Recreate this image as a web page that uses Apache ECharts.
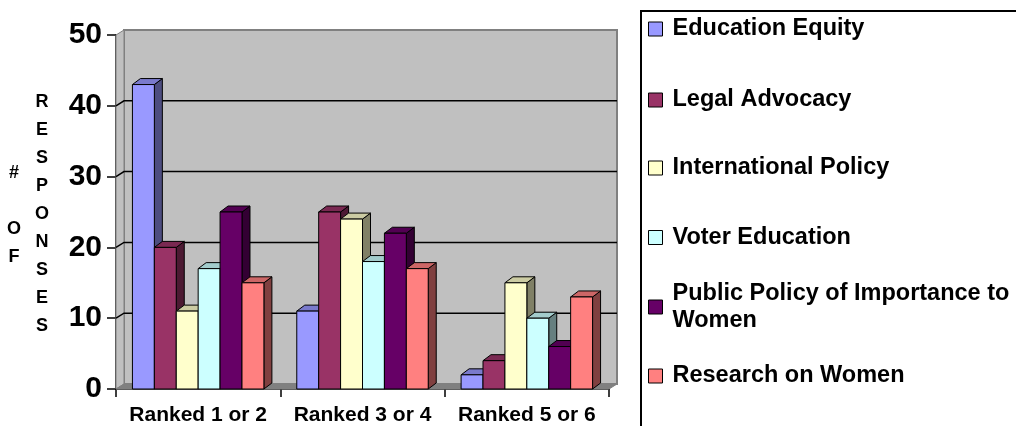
<!DOCTYPE html>
<html>
<head>
<meta charset="utf-8">
<script src="https://cdn.jsdelivr.net/npm/echarts@6/dist/echarts.min.js"></script>
<style>
html,body{margin:0;padding:0;background:#fff;}
#chart{width:1016px;height:426px;}
</style>
</head>
<body>
<div id="chart"></div>
<script>
const categories = ['Ranked 1 or 2', 'Ranked 3 or 4', 'Ranked 5 or 6'];
const seriesNames = ['Education Equity', 'Legal Advocacy', 'International Policy', 'Voter Education', 'Public Policy of Importance to Women', 'Research on Women'];
const educationEquity = [43, 11, 2];
const legalAdvocacy = [20, 25, 4];
const internationalPolicy = [11, 24, 15];
const voterEducation = [17, 18, 10];
const publicPolicy = [25, 22, 6];
const researchOnWomen = [15, 17, 13];
const yMin = 0, yMax = 50, yInterval = 10;

const seriesValues = [educationEquity, legalAdvocacy, internationalPolicy, voterEducation, publicPolicy, researchOnWomen];
const colors = ['#9999FF', '#993366', '#FFFFCC', '#CCFFFF', '#660066', '#FF8080'];
const FONT = '"Liberation Sans", Arial, sans-serif';

function shade(hex, f) {
  const n = parseInt(hex.slice(1), 16);
  const r = Math.round(((n >> 16) & 255) * f), g = Math.round(((n >> 8) & 255) * f), b = Math.round((n & 255) * f);
  return 'rgb(' + r + ',' + g + ',' + b + ')';
}

const WDX = 8, WDY = 5;   // wall depth
const BDX = 8, BDY = 6;   // bar depth

function renderWalls(params, api) {
  const cs = params.coordSys;
  const L = cs.x, R = cs.x + cs.width, T = cs.y, B = cs.y + cs.height;
  const children = [];
  children.push({ type: 'rect', shape: { x: L + WDX, y: T - WDY, width: R - L, height: B - T },
    style: { fill: '#C0C0C0', stroke: '#808080', lineWidth: 2 } });
  children.push({ type: 'polygon', shape: { points: [[L, T], [L + WDX, T - WDY], [L + WDX, B - WDY], [L, B]] },
    style: { fill: '#C0C0C0', stroke: '#808080', lineWidth: 1 } });
  children.push({ type: 'polygon', shape: { points: [[L, B], [L + WDX, B - WDY], [R + WDX, B - WDY], [R, B]] },
    style: { fill: '#808080', stroke: '#808080', lineWidth: 1 } });
  for (let v = yMin + yInterval; v < yMax; v += yInterval) {
    const y = api.coord([0, v])[1];
    children.push({ type: 'polyline', shape: { points: [[L, y], [L + WDX, y - WDY], [R + WDX, y - WDY]] },
      style: { fill: null, stroke: '#000', lineWidth: 1.5 } });
  }
  return { type: 'group', children: children };
}

function makeBarRenderer(i) {
  return function (params, api) {
    const c = api.value(0), v = api.value(1);
    const base = api.coord([c, 0]);
    const top = api.coord([c, v]);
    const band = api.size([1, 0])[0];
    const bw = band * 0.8 / 6;
    const x0 = base[0] - band * 0.4 + i * bw, x1 = x0 + bw;
    const yb = base[1], yt = top[1];
    const col = colors[i];
    return {
      type: 'group',
      children: [
        { type: 'polygon', shape: { points: [[x1, yt], [x1 + BDX, yt - BDY], [x1 + BDX, yb - BDY], [x1, yb]] },
          style: { fill: shade(col, 0.5), stroke: '#000', lineWidth: 1 } },
        { type: 'polygon', shape: { points: [[x0, yt], [x0 + BDX, yt - BDY], [x1 + BDX, yt - BDY], [x1, yt]] },
          style: { fill: shade(col, 0.8), stroke: '#000', lineWidth: 1 } },
        { type: 'rect', shape: { x: x0, y: yt, width: bw, height: yb - yt },
          style: { fill: col, stroke: '#000', lineWidth: 1 } }
      ]
    };
  };
}

const series = [{
  type: 'custom', name: '__walls', coordinateSystem: 'cartesian2d',
  data: [[0, 0]], renderItem: renderWalls, silent: true
}];
seriesNames.forEach(function (name, i) {
  series.push({
    type: 'custom', name: name, coordinateSystem: 'cartesian2d',
    itemStyle: { color: colors[i], borderColor: '#000', borderWidth: 1 },
    encode: { x: 0, y: 1 },
    data: seriesValues[i].map(function (v, c) { return [c, v]; }),
    renderItem: makeBarRenderer(i)
  });
});

const legendCenters = [29, 100, 168, 237.5, 307, 376];
const legends = seriesNames.map(function (name, i) {
  const twoLine = name === 'Public Policy of Importance to Women';
  return {
    show: true, orient: 'vertical', left: 648,
    top: legendCenters[i] - (twoLine ? 40.5 : 13.5),
    padding: 0, itemWidth: 14, itemHeight: 14,
    icon: 'rect', selectedMode: false,
    itemStyle: { borderColor: '#000', borderWidth: 1 },
    data: [name],
    formatter: function (n) { return n === 'Public Policy of Importance to Women' ? 'Public Policy of Importance to\nWomen' : n; },
    textStyle: { fontFamily: FONT, fontWeight: 'bold', fontSize: 23.5, color: '#000', lineHeight: 27,
      padding: twoLine ? [27, 0, 0, 5] : [0, 0, 0, 5] }
  };
});

const option = {
  backgroundColor: '#fff',
  animation: false,
  grid: { left: 116, right: 407, top: 35, bottom: 37, containLabel: false },
  xAxis: {
    type: 'category', data: categories,
    axisLine: { show: true, lineStyle: { color: '#000', width: 1.5 } },
    axisTick: { show: true, length: 8, lineStyle: { color: '#000', width: 1.5 } },
    axisLabel: { interval: 0, hideOverlap: false, fontFamily: FONT, fontWeight: 'bold', fontSize: 21, color: '#000', margin: 16 },
    splitLine: { show: false }
  },
  yAxis: {
    type: 'value', min: yMin, max: yMax, interval: yInterval,
    axisLine: { show: true, lineStyle: { color: '#000', width: 1.5 } },
    axisTick: { show: true, length: 9, lineStyle: { color: '#000', width: 1.5 } },
    axisLabel: { fontFamily: FONT, fontWeight: 'bold', fontSize: 30, color: '#000', margin: 14 },
    splitLine: { show: false }
  },
  legend: legends,
  graphic: [
    { type: 'rect', left: 640, top: 10, z: -1,
      shape: { width: 400, height: 450 },
      style: { fill: '#fff', stroke: '#000', lineWidth: 2 } },
    { type: 'text', x: 14, y: 215,
      style: { text: '#\n \nO\nF', fontFamily: FONT, fontWeight: 'bold', fontSize: 18, lineHeight: 28,
        fill: '#000', align: 'center', verticalAlign: 'middle' } },
    { type: 'text', x: 42, y: 214,
      style: { text: 'R\nE\nS\nP\nO\nN\nS\nE\nS', fontFamily: FONT, fontWeight: 'bold', fontSize: 18, lineHeight: 28,
        fill: '#000', align: 'center', verticalAlign: 'middle' } }
  ],
  series: series
};

const chart = echarts.init(document.getElementById('chart'), null, { renderer: 'canvas' });
chart.setOption(option);
</script>
</body>
</html>
